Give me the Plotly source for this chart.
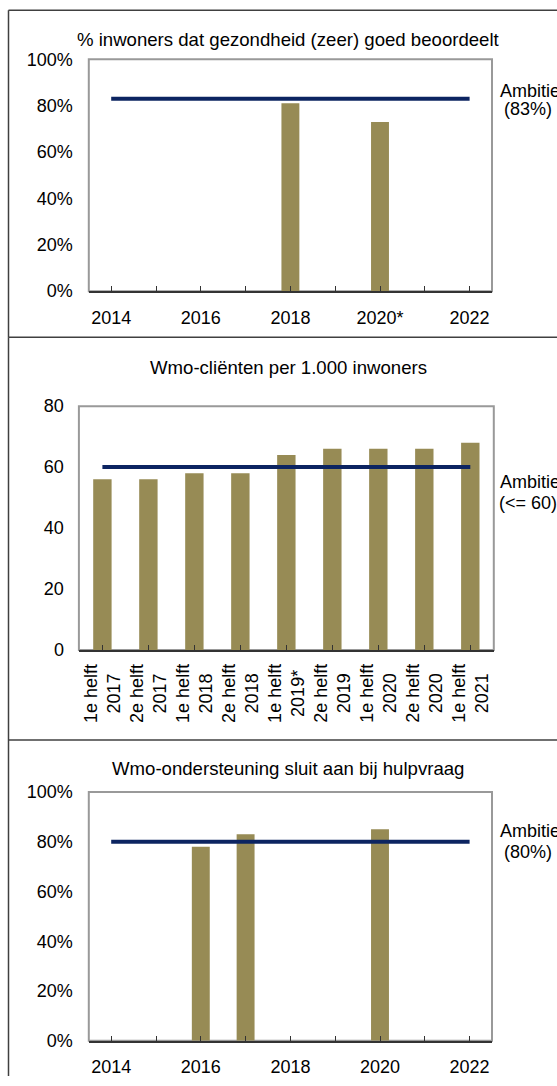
import plotly.graph_objects as go

W, H = 557, 1086

# ---------------- data ----------------
# Panel 1: % inwoners dat gezondheid (zeer) goed beoordeelt
years1 = ["2014", "2015", "2016", "2017", "2018", "2019", "2020*", "2021", "2022"]
health_vals = [None, None, None, None, 81, None, 73, None, None]
health_target = 83
tick_labels1 = ["2014", "", "2016", "", "2018", "", "2020*", "", "2022"]

# Panel 2: Wmo-cliënten per 1.000 inwoners
periods2 = ["1e helft 2017", "2e helft 2017", "1e helft 2018", "2e helft 2018",
            "1e helft 2019*", "2e helft 2019", "1e helft 2020", "2e helft 2020",
            "1e helft 2021"]
wmo_clients = [56, 56, 58, 58, 64, 66, 66, 66, 68]
wmo_target = 60

# Panel 3: Wmo-ondersteuning sluit aan bij hulpvraag
years3 = ["2014", "2015", "2016", "2017", "2018", "2019", "2020", "2021", "2022"]
support_vals = [None, None, 78, 83, None, None, 85, None, None]
support_target = 80
tick_labels3 = ["2014", "", "2016", "", "2018", "", "2020", "", "2022"]

titles = ["% inwoners dat gezondheid (zeer) goed beoordeelt",
          "Wmo-cliënten per 1.000 inwoners",
          "Wmo-ondersteuning sluit aan bij hulpvraag"]
target_labels = ["(83%)", "(&lt;= 60)", "(80%)"]

# ---------------- style ----------------
OLIVE = "#978b55"
NAVY = "#0c2461"
FONT = "Liberation Sans, Arial, sans-serif"
FS = 18

# the page is photographed with a small vertical inset; map target pixel rows
# to the rows that must be used inside the figure
V_OFF, V_SCALE = 9.7, 0.982


def px_x(x):
    return x / W


def px_y(y):
    yy = (y - V_OFF) / V_SCALE
    return min(1.0, max(0.0, 1 - yy / H))


fig = go.Figure()

# bars + target lines
fig.add_trace(go.Bar(x=years1, y=health_vals, width=0.4, marker=dict(color=OLIVE, line=dict(width=0)),
                     xaxis="x", yaxis="y", showlegend=False))
fig.add_trace(go.Scatter(x=[years1[0], years1[-1]], y=[health_target] * 2, mode="lines",
                         line=dict(color=NAVY, width=4), xaxis="x", yaxis="y", showlegend=False))

fig.add_trace(go.Bar(x=periods2, y=wmo_clients, width=0.4, marker=dict(color=OLIVE, line=dict(width=0)),
                     xaxis="x2", yaxis="y2", showlegend=False))
fig.add_trace(go.Scatter(x=[periods2[0], periods2[-1]], y=[wmo_target] * 2, mode="lines",
                         line=dict(color=NAVY, width=4), xaxis="x2", yaxis="y2", showlegend=False))

fig.add_trace(go.Bar(x=years3, y=support_vals, width=0.4, marker=dict(color=OLIVE, line=dict(width=0)),
                     xaxis="x3", yaxis="y3", showlegend=False))
fig.add_trace(go.Scatter(x=[years3[0], years3[-1]], y=[support_target] * 2, mode="lines",
                         line=dict(color=NAVY, width=4), xaxis="x3", yaxis="y3", showlegend=False))

# plot areas (pixels)
areas = [
    (88.8, 492.0, 59, 291),
    (78.9, 493.8, 406, 650),
    (88.8, 492.0, 792, 1041),
]

xcommon = dict(type="category", showgrid=False, zeroline=False, showline=True,
               linecolor="#333333", linewidth=2, ticks="inside", ticklen=5,
               tickcolor="#333333", tickwidth=1, tickfont=dict(family=FONT, size=FS, color="black"),
               fixedrange=True)
ycommon = dict(showgrid=False, zeroline=False, showline=False, ticks="",
               tickfont=dict(family=FONT, size=FS, color="black"), fixedrange=True)

cats = [years1, periods2, years3]
tlabels = [tick_labels1, None, tick_labels3]
for i, (x0, x1, yt, yb) in enumerate(areas):
    sfx = "" if i == 0 else str(i + 1)
    xa = dict(xcommon, domain=[px_x(x0), px_x(x1)], anchor="y" + sfx,
              categoryorder="array", categoryarray=cats[i], tickvals=cats[i],
              ticklabelstandoff=9)
    if tlabels[i] is None:
        xa["showticklabels"] = False
    else:
        xa["ticktext"] = tlabels[i]
    if i == 1:
        ya = dict(ycommon, domain=[px_y(yb), px_y(yt)], anchor="x" + sfx,
                  range=[0, 80], dtick=20, ticklabelstandoff=14)
    else:
        ya = dict(ycommon, domain=[px_y(yb), px_y(yt)], anchor="x" + sfx,
                  range=[0, 100], dtick=20, ticksuffix="%", ticklabelstandoff=15)
    fig.update_layout(**{"xaxis" + sfx: xa, "yaxis" + sfx: ya})
    # gray frame around the plot area
    fig.add_shape(type="rect", xref="x" + sfx + " domain", yref="y" + sfx + " domain",
                  x0=0, x1=1, y0=0, y1=1, line=dict(color="#999999", width=2),
                  fillcolor="rgba(0,0,0,0)", layer="below")

# rotated category labels for panel 2
for p in periods2:
    a, b = p.rsplit(" ", 1)
    fig.add_annotation(x=p, xref="x2", y=0, yref="y2", yanchor="top", xanchor="center",
                       yshift=-12, textangle=-90, text=a + "<br>" + b, align="center",
                       showarrow=False, font=dict(family=FONT, size=FS, color="black"))

# titles
title_y = [39, 367, 769]
for t, ty in zip(titles, title_y):
    fig.add_annotation(x=px_x(288), xref="paper", y=px_y(ty), yref="paper",
                       xanchor="center", yanchor="middle", text=t, showarrow=False,
                       font=dict(family=FONT, size=18.6, color="black"))

# target labels
amb_y = [(91, 109), (482, 503), (831, 852)]
for lab, (y1, y2) in zip(target_labels, amb_y):
    fig.add_annotation(x=px_x(498), xref="paper", y=px_y(y1), yref="paper",
                       xanchor="left", yanchor="middle", text="Ambitie", showarrow=False,
                       font=dict(family=FONT, size=FS, color="black"))
    fig.add_annotation(x=px_x(528), xref="paper", y=px_y(y2), yref="paper",
                       xanchor="center", yanchor="middle", text=lab, showarrow=False,
                       font=dict(family=FONT, size=FS, color="black"))

# panel borders
BC = "#404040"
for (ya, yb) in [(10, 337), (337, 740), (740, 1086)]:
    fig.add_shape(type="line", xref="paper", yref="paper", x0=px_x(8.5), x1=px_x(8.5),
                  y0=px_y(ya), y1=px_y(yb), line=dict(color=BC, width=1.5))
for yy in [10, 337, 740]:
    fig.add_shape(type="line", xref="paper", yref="paper", x0=px_x(8.5), x1=1,
                  y0=px_y(yy), y1=px_y(yy), line=dict(color=BC, width=1.5))

fig.update_layout(width=W, height=H, margin=dict(l=0, r=0, t=0, b=0),
                  paper_bgcolor="white", plot_bgcolor="white", bargap=0.6,
                  font=dict(family=FONT, size=FS, color="black"))

fig.write_html(
    "out.html",
    config={"displayModeBar": False, "staticPlot": True, "responsive": False},
    post_script=(
        "document.documentElement.style.margin='0';"
        "document.documentElement.style.overflow='hidden';"
        "document.body.style.margin='0';document.body.style.overflow='hidden';"
        "var gd=document.getElementById('{plot_id}');"
        "gd.style.position='fixed';gd.style.top='0px';gd.style.left='0px';"
    ),
)
